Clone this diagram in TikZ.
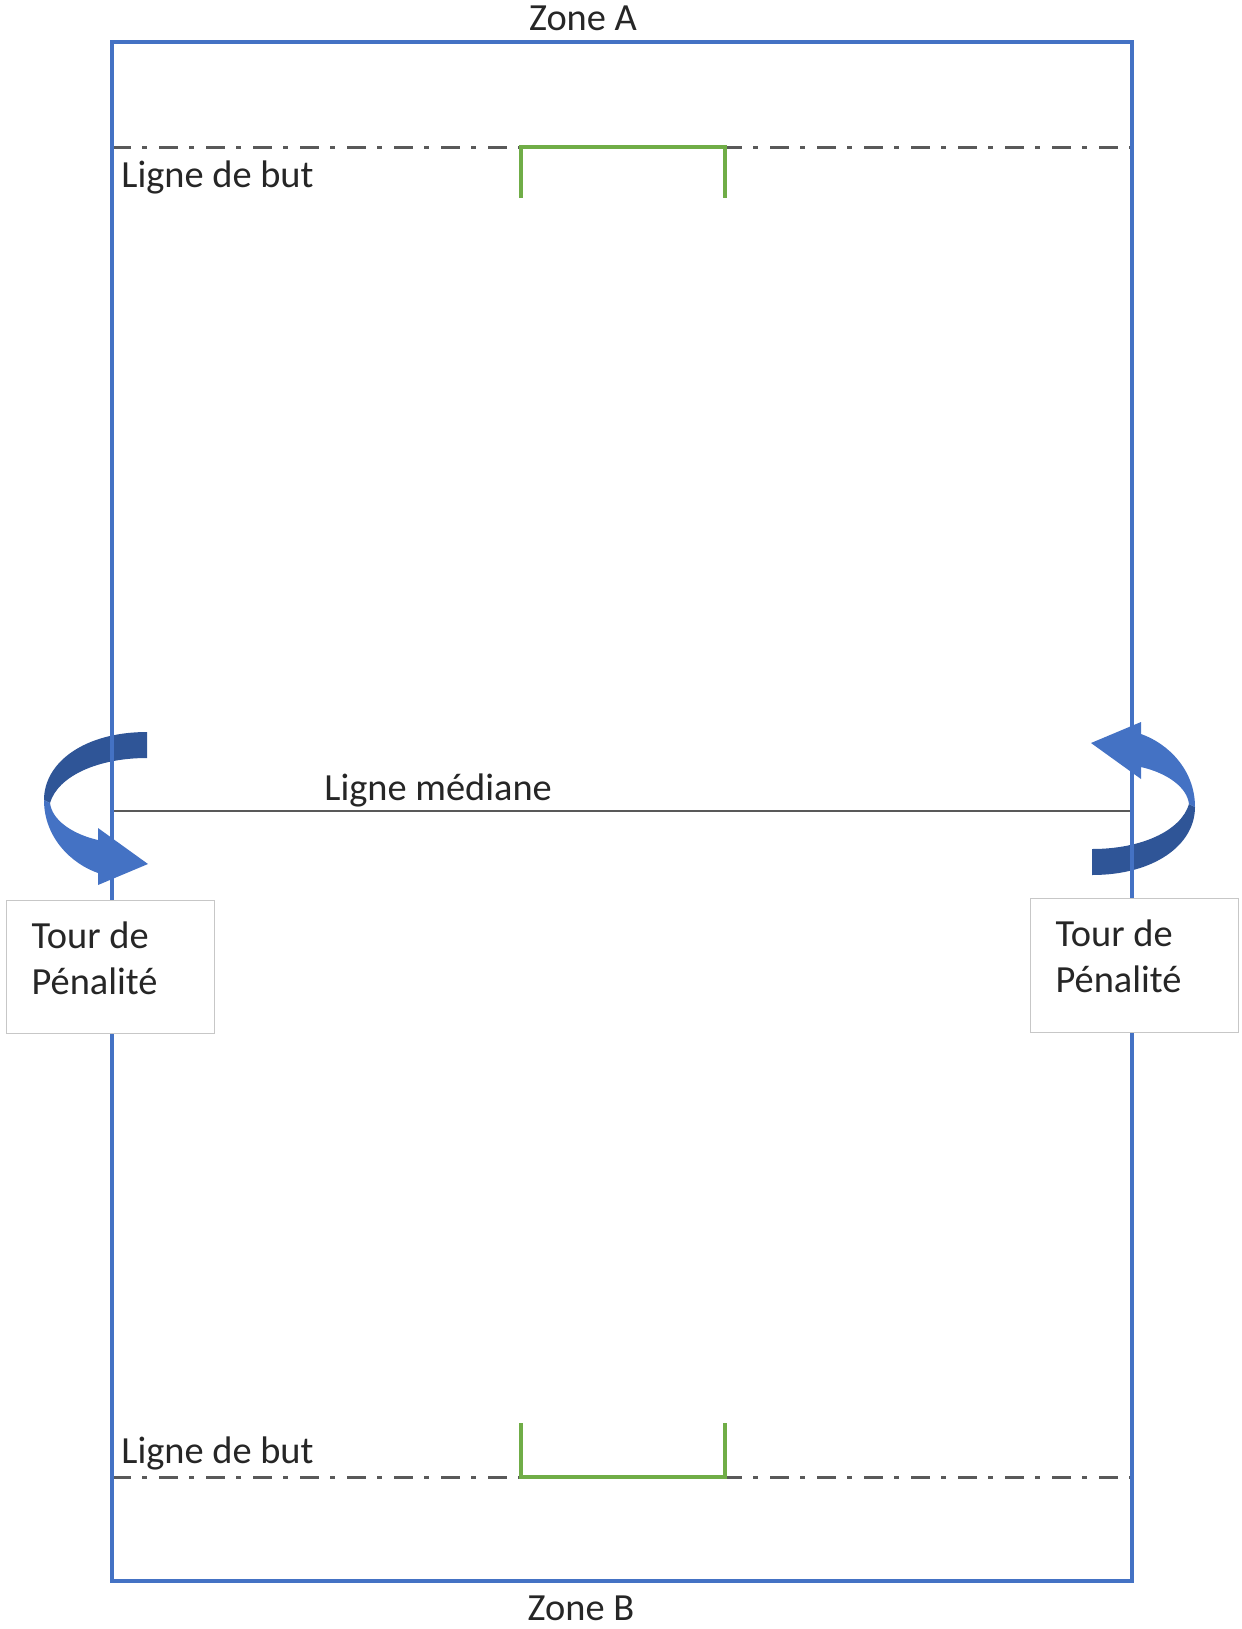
\documentclass[tikz,border=0pt]{standalone}
\usepackage{fontspec}
\setmainfont{Carlito}
\usepackage{tikz}

\definecolor{fieldblue}{HTML}{4472C4}
\definecolor{darkblue}{HTML}{2F5597}
\definecolor{goalgreen}{HTML}{70AD47}
\definecolor{linegray}{HTML}{595959}

\begin{document}
\begin{tikzpicture}[x=0.5pt,y=-0.5pt,font=\fontsize{19.2}{23}\selectfont,
    txt/.style={anchor=base west,inner sep=0pt,text=black!85},
    zone/.style={anchor=base,inner sep=0pt,text=black!85},
    goalline/.style={draw=linegray,line width=1.5pt,dash pattern=on 9.5pt off 5.5pt on 2.5pt off 6pt},
    goal/.style={draw=goalgreen,line width=1.6pt},
    tour/.style={draw=black!22,fill=white,line width=0.6pt,anchor=north west,align=flush left,
      inner ysep=0pt,inner xsep=12.5pt,text width=79pt,text=black!85}]
    \useasboundingbox (0,0) rectangle (1242,1629);

    \foreach \r in {0,180} {
      \begin{scope}[rotate around={\r:(619.5,803.5)}]
        \fill[darkblue] (147,732) .. controls (85,732) and (44,762) .. (44,800) -- (50,803)
          .. controls (58,776) and (98,758) .. (147,758) -- cycle;
        \fill[fieldblue] (44,800) .. controls (44,838) and (72,864) .. (98,873) -- (98,885)
          -- (148,864) -- (98,828) -- (98,840) .. controls (72,834) and (52,820) .. (50,803) -- cycle;
      \end{scope}
    }

    \draw[goalline] (112,147) -- (1132,147);
    \draw[goalline] (112,1477) -- (1132,1477);
    \draw[goal] (521,198) -- (521,147) -- (725,147) -- (725,198);
    \draw[goal] (521,1423) -- (521,1477) -- (725,1477) -- (725,1423);
    \draw[linegray,line width=1.2pt] (112,811) -- (1132,811);
    \draw[fieldblue,line width=1.8pt] (112,42) rectangle (1132,1581);

    \node[zone] (za) at (583,30) {Zone A};
    \node[zone] (zb) at (581,1620) {Zone B};
    \node[txt] (ba) at (121,187) {Ligne de but};
    \node[txt] (bb) at (121,1463) {Ligne de but};
    \node[txt] (m) at (324,800) {Ligne médiane};
    \node[tour,text height=24pt,text depth=42.5pt] (ta) at (6,900) {Tour de\\Pénalité};
    \node[tour,text height=24pt,text depth=43pt] (tb) at (1030,898) {Tour de\\Pénalité};
  \end{tikzpicture}
\end{document}
